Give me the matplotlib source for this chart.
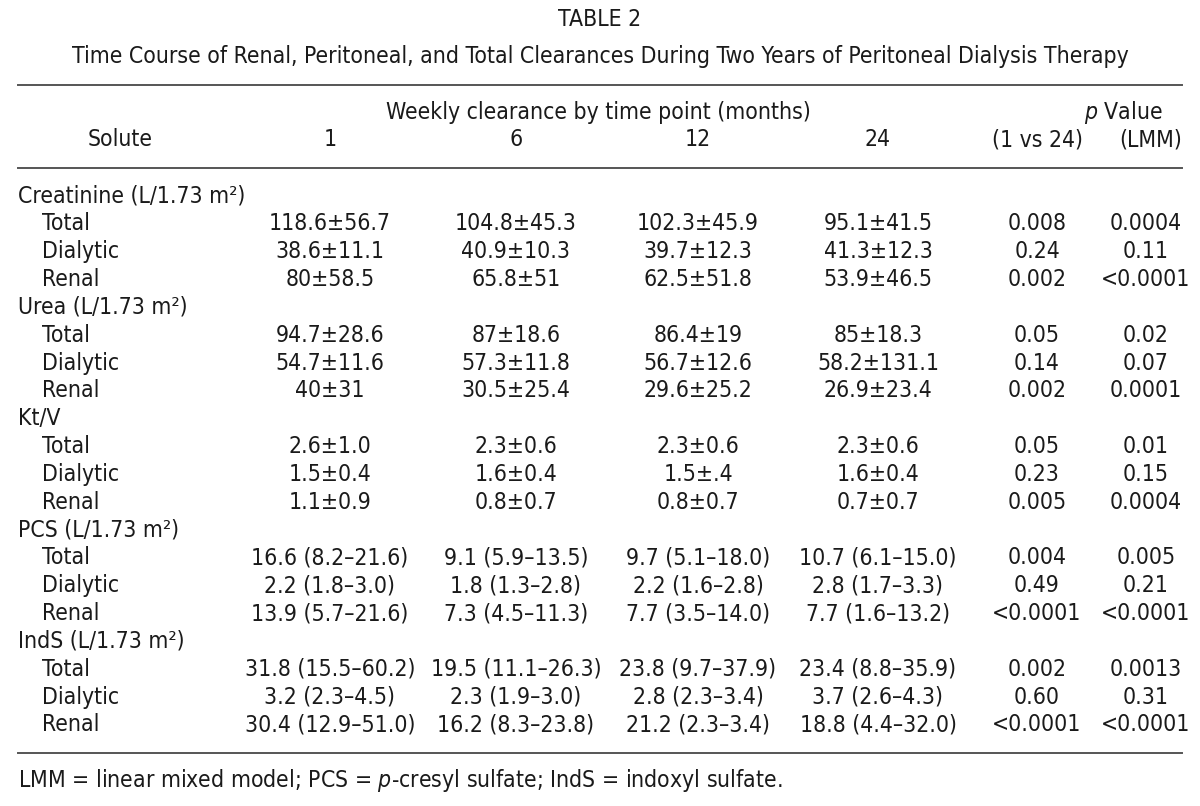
import matplotlib
matplotlib.use("Agg")
import matplotlib.pyplot as plt
from matplotlib import font_manager

# pick a narrow sans if one is installed
fonts = font_manager.fontManager.ttflist
names = {f.name for f in fonts}
family, stretch = "Roboto", "normal"
if "Liberation Sans Narrow" in names:
    family = "Liberation Sans Narrow"
elif any(f.name == "DejaVu Sans" and f.stretch == "condensed" for f in fonts):
    family, stretch = "DejaVu Sans", "condensed"
elif "Roboto Condensed" in names:
    family = "Roboto Condensed"

plt.rcParams['font.family'] = [family, 'DejaVu Sans']
plt.rcParams['font.stretch'] = stretch
plt.rcParams['mathtext.fontset'] = 'custom'
plt.rcParams['mathtext.rm'] = family
plt.rcParams['mathtext.it'] = family + ':italic'

# table content
title = "TABLE 2"
subtitle = ("Time Course of Renal, Peritoneal, and Total Clearances During "
            "Two Years of Peritoneal Dialysis Therapy")
months = ["1", "6", "12", "24"]
solutes = ["Creatinine (L/1.73 m²)", "Urea (L/1.73 m²)", "Kt/V",
           "PCS (L/1.73 m²)", "IndS (L/1.73 m²)"]
components = ["Total", "Dialytic", "Renal"]

month1 = ["118.6±56.7", "38.6±11.1", "80±58.5",
          "94.7±28.6", "54.7±11.6", "40±31",
          "2.6±1.0", "1.5±0.4", "1.1±0.9",
          "16.6 (8.2–21.6)", "2.2 (1.8–3.0)", "13.9 (5.7–21.6)",
          "31.8 (15.5–60.2)", "3.2 (2.3–4.5)", "30.4 (12.9–51.0)"]
month6 = ["104.8±45.3", "40.9±10.3", "65.8±51",
          "87±18.6", "57.3±11.8", "30.5±25.4",
          "2.3±0.6", "1.6±0.4", "0.8±0.7",
          "9.1 (5.9–13.5)", "1.8 (1.3–2.8)", "7.3 (4.5–11.3)",
          "19.5 (11.1–26.3)", "2.3 (1.9–3.0)", "16.2 (8.3–23.8)"]
month12 = ["102.3±45.9", "39.7±12.3", "62.5±51.8",
           "86.4±19", "56.7±12.6", "29.6±25.2",
           "2.3±0.6", "1.5±.4", "0.8±0.7",
           "9.7 (5.1–18.0)", "2.2 (1.6–2.8)", "7.7 (3.5–14.0)",
           "23.8 (9.7–37.9)", "2.8 (2.3–3.4)", "21.2 (2.3–3.4)"]
month24 = ["95.1±41.5", "41.3±12.3", "53.9±46.5",
           "85±18.3", "58.2±131.1", "26.9±23.4",
           "2.3±0.6", "1.6±0.4", "0.7±0.7",
           "10.7 (6.1–15.0)", "2.8 (1.7–3.3)", "7.7 (1.6–13.2)",
           "23.4 (8.8–35.9)", "3.7 (2.6–4.3)", "18.8 (4.4–32.0)"]
p_1vs24 = ["0.008", "0.24", "0.002",
           "0.05", "0.14", "0.002",
           "0.05", "0.23", "0.005",
           "0.004", "0.49", "<0.0001",
           "0.002", "0.60", "<0.0001"]
p_lmm = ["0.0004", "0.11", "<0.0001",
         "0.02", "0.07", "0.0001",
         "0.01", "0.15", "0.0004",
         "0.005", "0.21", "<0.0001",
         "0.0013", "0.31", "<0.0001"]
footnote = "LMM = linear mixed model; PCS = $\\it{p}$-cresyl sulfate; IndS = indoxyl sulfate."

columns = [month1, month6, month12, month24, p_1vs24, p_lmm]
col_x = [330, 516, 698, 878, 1037, 1146]

ink = "#1a1a1a"
fs = 16.5

fig = plt.figure(figsize=(12, 8.06), dpi=100)
ax = fig.add_axes([0, 0, 1, 1])
ax.set_xlim(0, 1200)
ax.set_ylim(806, 0)
ax.axis("off")

ax.text(600, 20, title, ha="center", va="center", fontsize=fs, color=ink)
ax.text(600, 57, subtitle, ha="center", va="center", fontsize=fs, color=ink)

for y in [85, 168, 753]:
    ax.plot([18, 1182], [y, y], color="#555555", lw=1.4)

ax.text(598, 113, "Weekly clearance by time point (months)", ha="center", va="center",
        fontsize=fs, color=ink)
ax.text(1123, 113, "$\\it{p}$ Value", ha="center", va="center", fontsize=fs, color=ink)
ax.text(120, 140, "Solute", ha="center", va="center", fontsize=fs, color=ink)
for x, m in zip(col_x[:4], months):
    ax.text(x, 140, m, ha="center", va="center", fontsize=fs, color=ink)
ax.text(col_x[4], 140, "(1 vs 24)", ha="center", va="center", fontsize=fs, color=ink)
ax.text(1151, 140, "(LMM)", ha="center", va="center", fontsize=fs, color=ink)

y0, dy = 196, 27.84
row = 0
k = 0
for solute in solutes:
    ax.text(18, y0 + row * dy, solute, ha="left", va="center", fontsize=fs, color=ink)
    row += 1
    for comp in components:
        y = y0 + row * dy
        ax.text(42, y, comp, ha="left", va="center", fontsize=fs, color=ink)
        for x, col in zip(col_x, columns):
            ax.text(x, y, col[k], ha="center", va="center", fontsize=fs, color=ink)
        row += 1
        k += 1

ax.text(18, 781, footnote, ha="left", va="center", fontsize=fs, color=ink)

fig.savefig("out.png", dpi=100)
